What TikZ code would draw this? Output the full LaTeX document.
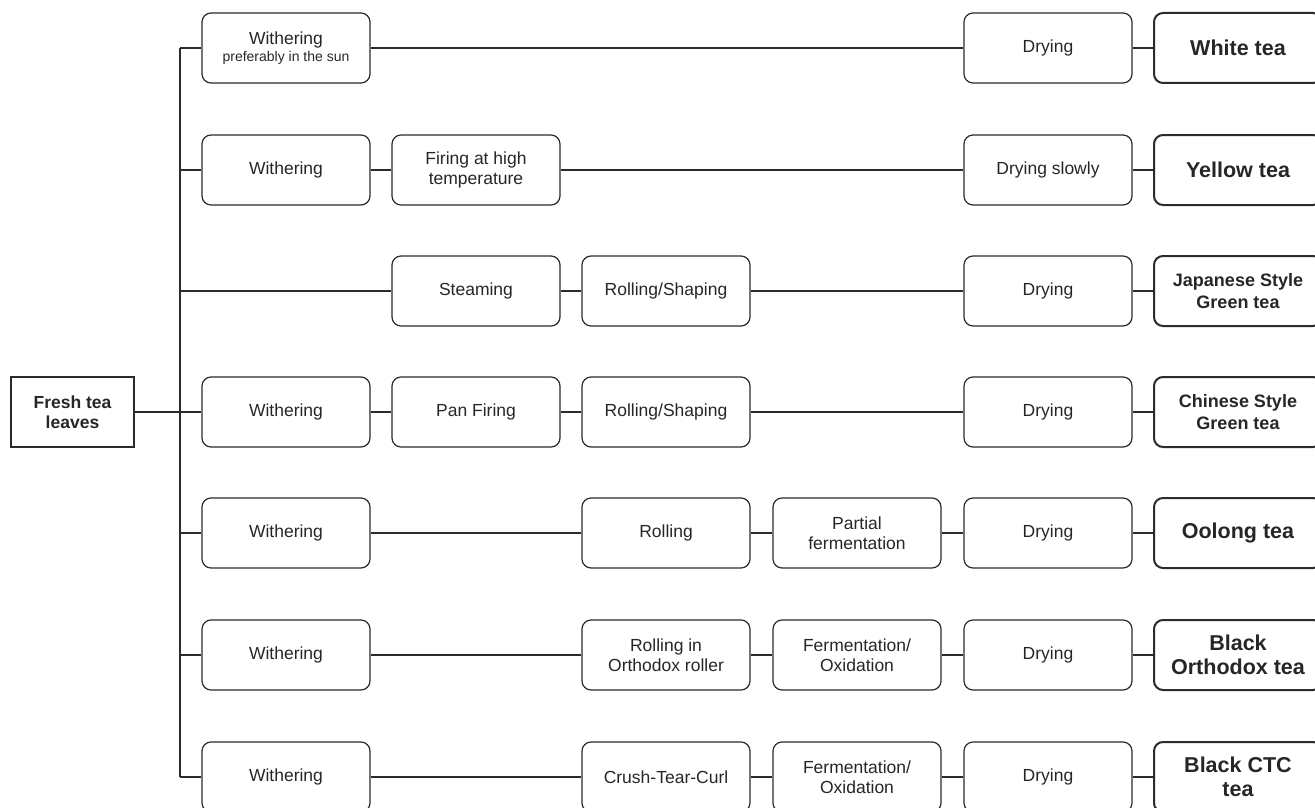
\documentclass[tikz,border=0pt]{standalone}
\usepackage{fontspec}
\setmainfont{Liberation Sans}
\definecolor{ln}{HTML}{2B2B2B}
\definecolor{tx}{HTML}{262626}
\begin{document}
\begin{tikzpicture}[x=1pt,y=-1pt,
  stepbox/.style={draw=ln, line width=1.2pt, rounded corners=9pt,
    minimum width=168pt, minimum height=70pt, inner sep=0pt, align=center,
    text=tx, font=\fontsize{17.5}{20}\selectfont},
  teabox/.style={stepbox, line width=2pt, font=\fontsize{21.5}{24}\selectfont\bfseries},
  teaboxs/.style={stepbox, line width=2pt, font=\fontsize{18}{21.5}\selectfont\bfseries},
  freshbox/.style={draw=ln, line width=1.2pt, minimum width=123pt, minimum height=70pt,
    inner sep=0pt, align=center, text=tx, font=\fontsize{17.5}{20}\selectfont\bfseries},
  conn/.style={draw=ln, line width=1.2pt}
]
\useasboundingbox (0,0) rectangle (1315,808);
\clip (0,0) rectangle (1315,808);

% columns: 286, 476, 666, 857, 1048, 1238 ; rows: 48, 170, 291, 412, 533, 655, 777
\node[freshbox] (fresh) at (72.5,412) {Fresh tea\\leaves};

\foreach \i/\y in {1/48,2/170,3/291,4/412,5/533,6/655,7/777}
  \coordinate (sp\i) at (180,\y);

% Row 1
\node[stepbox] (w1) at (286,48) {Withering\\[-3pt]{\fontsize{14}{16}\selectfont preferably in the sun}};
\node[stepbox] (d1) at (1048,48) {Drying};
\node[teabox] (t1) at (1238,48) {White tea};
% Row 2
\node[stepbox] (w2) at (286,170) {Withering};
\node[stepbox] (f2) at (476,170) {Firing at high\\temperature};
\node[stepbox] (d2) at (1048,170) {Drying slowly};
\node[teabox] (t2) at (1238,170) {Yellow tea};
% Row 3
\node[stepbox] (s3) at (476,291) {Steaming};
\node[stepbox] (r3) at (666,291) {Rolling/Shaping};
\node[stepbox] (d3) at (1048,291) {Drying};
\node[teaboxs] (t3) at (1238,291) {Japanese Style\\Green tea};
% Row 4
\node[stepbox] (w4) at (286,412) {Withering};
\node[stepbox] (p4) at (476,412) {Pan Firing};
\node[stepbox] (r4) at (666,412) {Rolling/Shaping};
\node[stepbox] (d4) at (1048,412) {Drying};
\node[teaboxs] (t4) at (1238,412) {Chinese Style\\Green tea};
% Row 5
\node[stepbox] (w5) at (286,533) {Withering};
\node[stepbox] (r5) at (666,533) {Rolling};
\node[stepbox] (f5) at (857,533) {Partial\\fermentation};
\node[stepbox] (d5) at (1048,533) {Drying};
\node[teabox] (t5) at (1238,533) {Oolong tea};
% Row 6
\node[stepbox] (w6) at (286,655) {Withering};
\node[stepbox] (r6) at (666,655) {Rolling in\\Orthodox roller};
\node[stepbox] (f6) at (857,655) {Fermentation/\\Oxidation};
\node[stepbox] (d6) at (1048,655) {Drying};
\node[teabox] (t6) at (1238,655) {Black\\Orthodox tea};
% Row 7
\node[stepbox] (w7) at (286,777) {Withering};
\node[stepbox] (c7) at (666,777) {Crush-Tear-Curl};
\node[stepbox] (f7) at (857,777) {Fermentation/\\Oxidation};
\node[stepbox] (d7) at (1048,777) {Drying};
\node[teabox] (t7) at (1238,777) {Black CTC\\tea};

% spine
\draw[conn] (sp1) -- (sp7);
\draw[conn] (fresh) -- (sp4);
\draw[conn] (sp1) -- (w1.west);
\draw[conn] (sp2) -- (w2.west);
\draw[conn] (sp3) -- (s3.west);
\draw[conn] (sp4) -- (w4.west);
\draw[conn] (sp5) -- (w5.west);
\draw[conn] (sp6) -- (w6.west);
\draw[conn] (sp7) -- (w7.west);

% rows
\draw[conn] (w1) -- (d1);
\draw[conn] (d1) -- (t1);
\draw[conn] (w2) -- (f2);
\draw[conn] (f2) -- (d2);
\draw[conn] (d2) -- (t2);
\draw[conn] (s3) -- (r3);
\draw[conn] (r3) -- (d3);
\draw[conn] (d3) -- (t3);
\draw[conn] (w4) -- (p4);
\draw[conn] (p4) -- (r4);
\draw[conn] (r4) -- (d4);
\draw[conn] (d4) -- (t4);
\draw[conn] (w5) -- (r5);
\draw[conn] (r5) -- (f5);
\draw[conn] (f5) -- (d5);
\draw[conn] (d5) -- (t5);
\draw[conn] (w6) -- (r6);
\draw[conn] (r6) -- (f6);
\draw[conn] (f6) -- (d6);
\draw[conn] (d6) -- (t6);
\draw[conn] (w7) -- (c7);
\draw[conn] (c7) -- (f7);
\draw[conn] (f7) -- (d7);
\draw[conn] (d7) -- (t7);
\end{tikzpicture}
\end{document}
